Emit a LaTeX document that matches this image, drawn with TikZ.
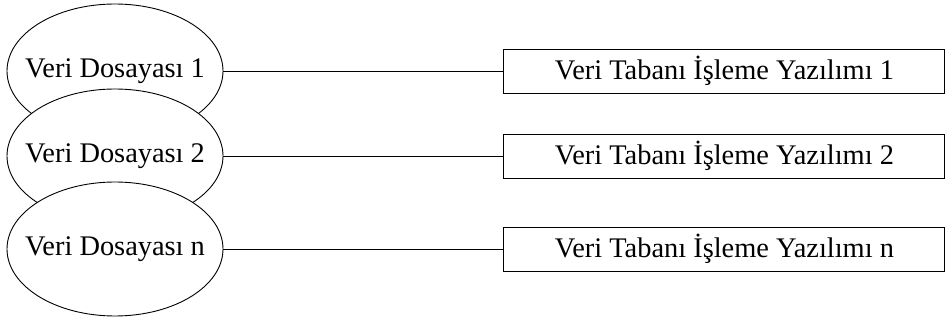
\documentclass[tikz,border=0pt]{standalone}
\usepackage{fontspec}
\setmainfont{Liberation Serif}
\usetikzlibrary{positioning,shapes.geometric}
\tikzset{
	%Define style for the data files
	dosya/.style={
		ellipse,
		draw=black, line width=0.9pt,
		fill=white,
		inner sep=0pt,
		minimum width=216pt,
		minimum height=134pt},
	%Define style for the software boxes
	kutu/.style={
		rectangle,
		draw=black, line width=0.9pt,
		inner sep=0pt,
		minimum width=441pt,
		minimum height=44pt},
	% Define line style
	hat/.style={
		-,
		line width=0.8pt}
}
\begin{document}
\begin{tikzpicture}[x=1pt, y=1pt, font=\fontsize{28.4}{34}\selectfont]
	\useasboundingbox (0,0) rectangle (948,-320);
	
	\node[dosya] (d1) at (115,-71) {\makebox[0pt]{Veri Dosayası 1}};
	\node[dosya] (d2) at (115,-156) {\makebox[0pt]{Veri Dosayası 2}};
	\node[dosya] (dn) at (115,-249) {\makebox[0pt]{Veri Dosayası n}};
	
	\node[kutu, right=280pt of d1] (y1) {Veri Tabanı İşleme Yazılımı 1};
	\node[kutu, right=280pt of d2] (y2) {Veri Tabanı İşleme Yazılımı 2};
	\node[kutu, right=280pt of dn] (yn) {Veri Tabanı İşleme Yazılımı n};
	
	\draw[hat] (d1) -- (y1);
	\draw[hat] (d2) -- (y2);
	\draw[hat] (dn) -- (yn);
	
\end{tikzpicture}
\end{document}
